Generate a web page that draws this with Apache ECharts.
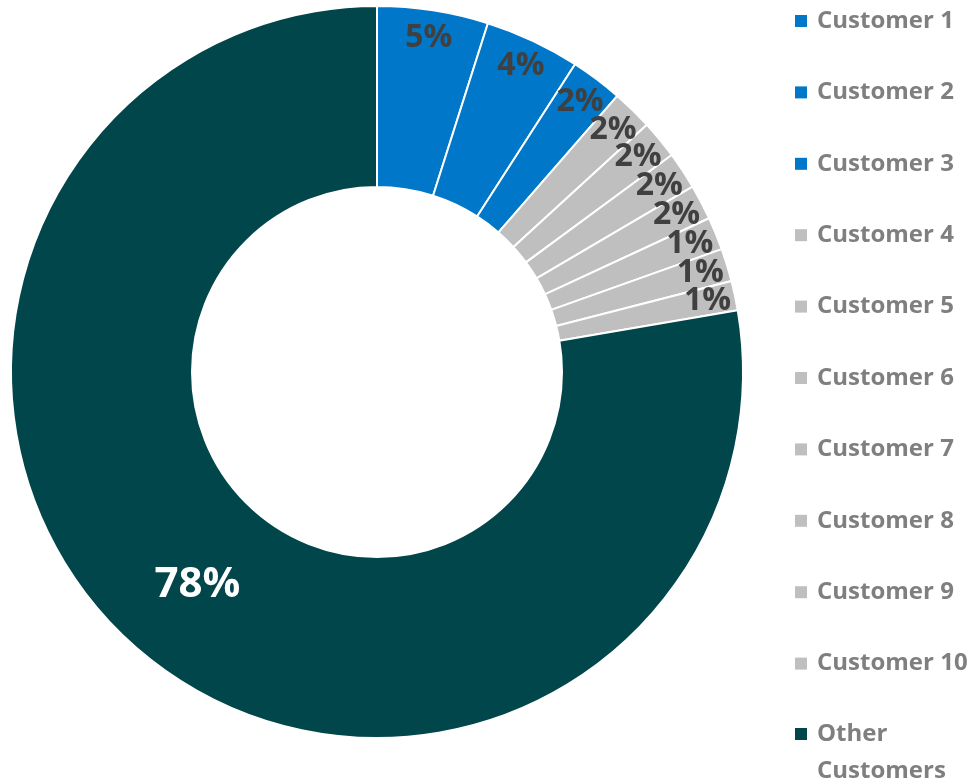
<!DOCTYPE html>
<html>
<head>
<meta charset="utf-8">
<script src="https://cdn.jsdelivr.net/npm/echarts@6/dist/echarts.min.js"></script>
<style>
  html, body { margin: 0; padding: 0; background: #ffffff; }
  #chart { width: 976px; height: 781px; }
</style>
</head>
<body>
<div id="chart"></div>
<script>
// Revenue share by customer
const customers = ['Customer 1', 'Customer 2', 'Customer 3', 'Customer 4', 'Customer 5',
  'Customer 6', 'Customer 7', 'Customer 8', 'Customer 9', 'Customer 10'];
const otherName = 'Other Customers';
const customerShares = [4.9, 4.2, 2.3, 1.8, 1.7, 1.65, 1.55, 1.45, 1.45, 1.3];
const otherShare = 77.7;

const BLUE = '#0077C8';
const GREY = '#BFBFBF';
const TEAL = '#00464A';
const FONT = '"Open Sans", sans-serif';

// top three customers in blue, the rest of the top ten in grey
const sliceColor = i => (i < 3 ? BLUE : GREY);

const pctText = p => Math.round(p.percent) + '%';

const mainData = customers.map((name, i) => ({
  name,
  value: customerShares[i],
  itemStyle: { color: sliceColor(i) },
  label: { show: false }
})).concat([{
  name: otherName,
  value: otherShare,
  itemStyle: { color: TEAL },
  label: { show: true, color: '#ffffff', fontSize: 42, fontWeight: 'bold', fontFamily: FONT }
}]);

// label ring near the outer edge for the small slices
const labelData = customers.map((name, i) => ({
  name,
  value: customerShares[i],
  label: { show: true }
})).concat([{ name: otherName, value: otherShare, label: { show: false } }]);

const legendText = {
  color: '#7F7F7F', fontSize: 24, fontWeight: 'bold', fontFamily: FONT,
  lineHeight: 37, padding: [0, 0, 0, 5]
};

const chart = echarts.init(document.getElementById('chart'), null, { renderer: 'canvas' });
chart.setOption({
  animation: false,
  backgroundColor: '#ffffff',
  legend: [{
    orient: 'vertical',
    left: 795,
    top: 2.5,
    padding: 0,
    itemWidth: 12,
    itemHeight: 12,
    itemGap: 34.4,
    icon: 'rect',
    itemStyle: { borderWidth: 0 },
    selectedMode: false,
    data: customers,
    textStyle: legendText
  }, {
    orient: 'vertical',
    left: 795,
    top: 678.5,
    padding: 0,
    itemWidth: 12,
    itemHeight: 12,
    icon: 'rect',
    itemStyle: { borderWidth: 0 },
    selectedMode: false,
    data: [otherName],
    // two-line entry; the leading blank line keeps the icon beside the first line
    formatter: name => '\n' + name.replace(' ', '\n'),
    textStyle: legendText
  }],
  series: [{
    type: 'pie',
    center: [377, 372],
    radius: [185, 366],
    startAngle: 90,
    clockwise: true,
    silent: true,
    itemStyle: { borderColor: '#ffffff', borderWidth: 2 },
    label: { position: 'inside', formatter: pctText },
    labelLine: { show: false },
    labelLayout: { hideOverlap: false },
    emphasis: { disabled: true },
    data: mainData
  }, {
    type: 'pie',
    center: [377, 372],
    radius: [305, 365],
    startAngle: 90,
    clockwise: true,
    silent: true,
    legendHoverLink: false,
    itemStyle: { color: 'rgba(0,0,0,0)', borderWidth: 0 },
    label: {
      position: 'inside', formatter: pctText,
      color: '#404040', fontSize: 32, fontWeight: 'bold', fontFamily: FONT
    },
    labelLine: { show: false },
    labelLayout: { hideOverlap: false },
    emphasis: { disabled: true },
    data: labelData
  }]
});
</script>
</body>
</html>
